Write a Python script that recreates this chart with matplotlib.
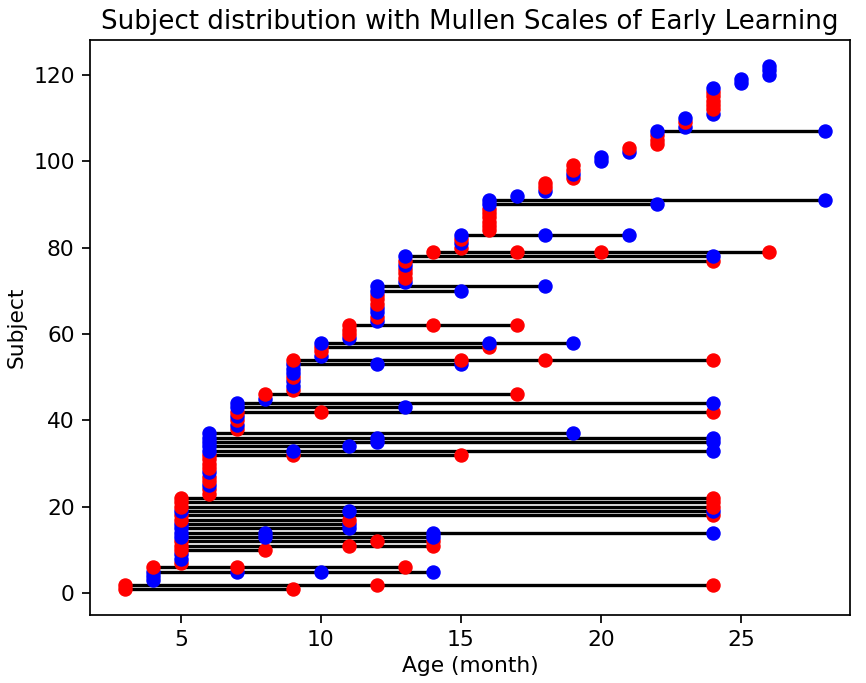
import matplotlib
matplotlib.use("Agg")
import matplotlib.pyplot as plt

# visit ages (months) per subject, subject index = position + 1
visits = [
    [3, 9], [3, 12, 24],
    [4], [4], [4, 7, 10, 14], [4, 7, 13],
    [5], [5], [5], [5, 8], [5, 11, 14], [5, 12, 14], [5, 8, 14], [5, 8, 14, 24],
    [5, 11], [5, 11], [5, 11], [5, 24], [5, 11, 24], [5, 24], [5, 24], [5, 24],
    [6], [6], [6], [6], [6], [6], [6], [6], [6],
    [6, 9, 15], [6, 9, 24], [6, 11], [6, 12, 24], [6, 12, 24], [6, 19],
    [7], [7], [7], [7], [7, 10, 24], [7, 13], [7, 24],
    [8], [8, 17],
    [9], [9], [9], [9], [9], [9], [9, 12, 15], [9, 15, 18, 24],
    [10], [10], [10, 16], [10, 16, 19],
    [11], [11], [11], [11, 14, 17],
    [12], [12], [12], [12], [12], [12], [12], [12, 15], [12, 18],
    [13], [13], [13], [13], [13], [13, 24], [13, 24],
    [14, 17, 20, 26],
    [15], [15], [15], [15, 18, 21],
    [16], [16], [16], [16], [16], [16], [16, 22], [16, 28],
    [17],
    [18], [18], [18],
    [19], [19], [19], [19],
    [20], [20],
    [21], [21],
    [22], [22], [22], [22, 28],
    [23], [23], [23],
    [24], [24], [24], [24], [24], [24], [24],
    [25], [25],
    [26], [26], [26],
]

# R = red, B = blue, one letter per subject
sex = ("RRBBBR"
       "RBBRRRBBBBRRBRRR"
       "RRBRRBRRRRBBBBB"
       "RBRBRBB"
       "BR"
       "RBBRBBBR"
       "BRRB"
       "BRRR"
       "BRBBRRRBB"
       "BRRRBRB"
       "R"
       "RBRB"
       "RRRRRRBB"
       "B"
       "BRR"
       "RBRR"
       "BB"
       "BR"
       "RRRB"
       "BRB"
       "BRRRRRB"
       "BB"
       "BBB")

colors = {"R": "red", "B": "blue"}

fig = plt.figure(figsize=(8.66, 6.83), dpi=100)
ax = fig.add_axes([0.1039, 0.0996, 0.8776, 0.8419])

for i, (ages, s) in enumerate(zip(visits, sex), start=1):
    ax.plot(ages, [i] * len(ages), color="black", lw=2.4, zorder=1)
    ax.plot(ages, [i] * len(ages), "o", color=colors[s], ms=9.4, zorder=2)

ax.set_xlim(1.75, 28.9)
ax.set_ylim(-5.05, 128.05)
ax.set_xticks([5, 10, 15, 20, 25])
ax.set_yticks([0, 20, 40, 60, 80, 100, 120])
ax.tick_params(labelsize=15.7, width=1.25, length=5.5, pad=5.5)
for sp in ax.spines.values():
    sp.set_linewidth(1.25)

ax.set_xlabel("Age (month)", fontsize=15.7, labelpad=4)
ax.set_ylabel("Subject", fontsize=15.7, labelpad=5)
ax.set_title("Subject distribution with Mullen Scales of Early Learning",
             fontsize=18.8, pad=8)

fig.savefig("out.png", dpi=100)
